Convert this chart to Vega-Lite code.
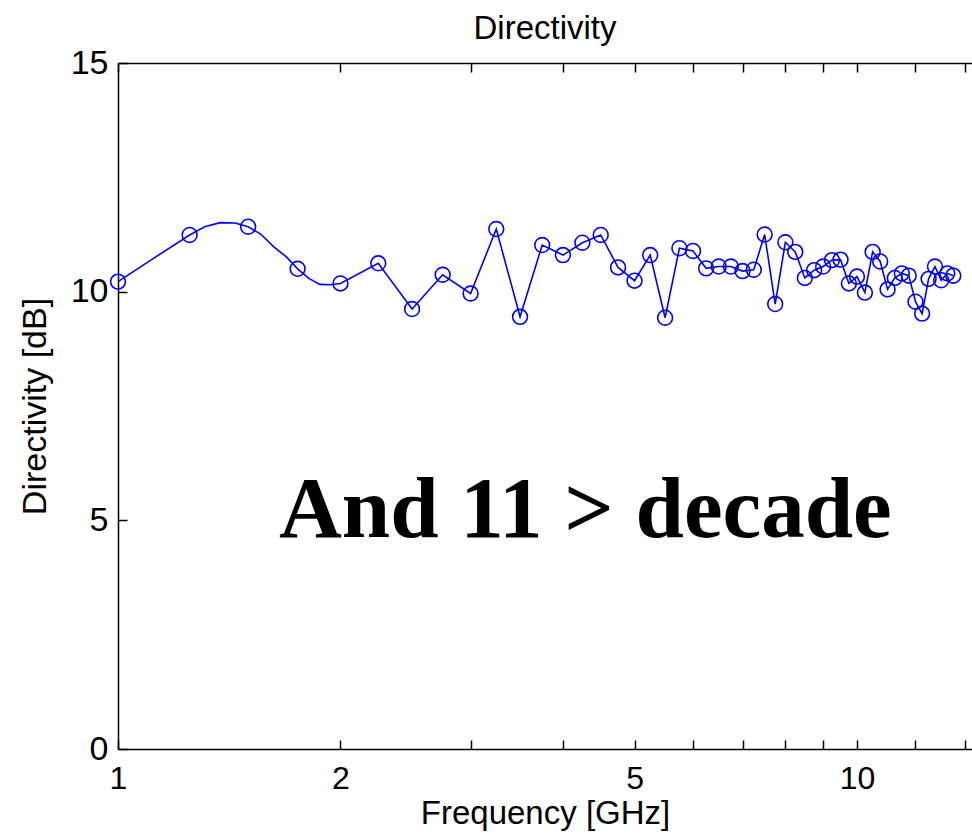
{
  "$schema": "https://vega.github.io/schema/vega-lite/v6.json",
  "width": 854,
  "height": 686,
  "autosize": "none",
  "padding": {"left": 118, "top": 63, "right": 0, "bottom": 90},
  "background": "white",
  "config": {"view": {"stroke": null}, "font": "Liberation Sans"},
  "title": {"text": "Directivity", "fontSize": 33, "font": "Liberation Sans", "fontWeight": "normal", "offset": 0, "color": "#000000"},
  "datasets": {
    "markers": [
      {"f": 1.00, "d": 10.22}, {"f": 1.25, "d": 11.24}, {"f": 1.50, "d": 11.42}, {"f": 1.75, "d": 10.50},
      {"f": 2.00, "d": 10.18}, {"f": 2.25, "d": 10.62}, {"f": 2.50, "d": 9.62}, {"f": 2.75, "d": 10.37},
      {"f": 3.00, "d": 9.96}, {"f": 3.25, "d": 11.37}, {"f": 3.50, "d": 9.45}, {"f": 3.75, "d": 11.02},
      {"f": 4.00, "d": 10.80}, {"f": 4.25, "d": 11.07}, {"f": 4.50, "d": 11.24}, {"f": 4.75, "d": 10.53},
      {"f": 5.00, "d": 10.24}, {"f": 5.25, "d": 10.80}, {"f": 5.50, "d": 9.43}, {"f": 5.75, "d": 10.95},
      {"f": 6.00, "d": 10.89}, {"f": 6.25, "d": 10.51}, {"f": 6.50, "d": 10.55}, {"f": 6.75, "d": 10.55},
      {"f": 7.00, "d": 10.45}, {"f": 7.25, "d": 10.48}, {"f": 7.50, "d": 11.25}, {"f": 7.75, "d": 9.73},
      {"f": 8.00, "d": 11.08}, {"f": 8.25, "d": 10.87}, {"f": 8.50, "d": 10.30}, {"f": 8.75, "d": 10.47},
      {"f": 9.00, "d": 10.55}, {"f": 9.25, "d": 10.69}, {"f": 9.50, "d": 10.70}, {"f": 9.75, "d": 10.18},
      {"f": 10.00, "d": 10.33}, {"f": 10.25, "d": 9.98}, {"f": 10.50, "d": 10.87}, {"f": 10.75, "d": 10.66},
      {"f": 11.00, "d": 10.05}, {"f": 11.25, "d": 10.30}, {"f": 11.50, "d": 10.40}, {"f": 11.75, "d": 10.35},
      {"f": 12.00, "d": 9.78}, {"f": 12.25, "d": 9.52}, {"f": 12.50, "d": 10.28}, {"f": 12.75, "d": 10.55},
      {"f": 13.00, "d": 10.25}, {"f": 13.25, "d": 10.40}, {"f": 13.50, "d": 10.35}
    ],
    "line": [
      {"f": 1.00, "d": 10.22}, {"f": 1.125, "d": 10.76}, {"f": 1.25, "d": 11.24}, {"f": 1.31, "d": 11.42},
      {"f": 1.375, "d": 11.51}, {"f": 1.44, "d": 11.50}, {"f": 1.50, "d": 11.42}, {"f": 1.56, "d": 11.26},
      {"f": 1.625, "d": 10.98}, {"f": 1.69, "d": 10.76}, {"f": 1.75, "d": 10.50}, {"f": 1.8125, "d": 10.29},
      {"f": 1.875, "d": 10.16}, {"f": 1.94, "d": 10.15}, {"f": 2.00, "d": 10.18}, {"f": 2.25, "d": 10.62},
      {"f": 2.50, "d": 9.62}, {"f": 2.75, "d": 10.37}, {"f": 3.00, "d": 9.96}, {"f": 3.25, "d": 11.37},
      {"f": 3.50, "d": 9.45}, {"f": 3.75, "d": 11.02}, {"f": 4.00, "d": 10.80}, {"f": 4.25, "d": 11.07},
      {"f": 4.50, "d": 11.24}, {"f": 4.75, "d": 10.53}, {"f": 5.00, "d": 10.24}, {"f": 5.25, "d": 10.80},
      {"f": 5.50, "d": 9.43}, {"f": 5.75, "d": 10.95}, {"f": 6.00, "d": 10.89}, {"f": 6.25, "d": 10.51},
      {"f": 6.50, "d": 10.55}, {"f": 6.75, "d": 10.55}, {"f": 7.00, "d": 10.45}, {"f": 7.25, "d": 10.48},
      {"f": 7.50, "d": 11.25}, {"f": 7.75, "d": 9.73}, {"f": 8.00, "d": 11.08}, {"f": 8.25, "d": 10.87},
      {"f": 8.50, "d": 10.30}, {"f": 8.75, "d": 10.47}, {"f": 9.00, "d": 10.55}, {"f": 9.25, "d": 10.69},
      {"f": 9.50, "d": 10.70}, {"f": 9.75, "d": 10.18}, {"f": 10.00, "d": 10.33}, {"f": 10.25, "d": 9.98},
      {"f": 10.50, "d": 10.87}, {"f": 10.75, "d": 10.66}, {"f": 11.00, "d": 10.05}, {"f": 11.25, "d": 10.30},
      {"f": 11.50, "d": 10.40}, {"f": 11.75, "d": 10.35}, {"f": 12.00, "d": 9.78}, {"f": 12.25, "d": 9.52},
      {"f": 12.50, "d": 10.28}, {"f": 12.75, "d": 10.55}, {"f": 13.00, "d": 10.25}, {"f": 13.25, "d": 10.40},
      {"f": 13.50, "d": 10.35}
    ],
    "note": [{"f": 4.29, "d": 4.64, "label": "And 11 > decade"}]
  },
  "layer": [
    {
      "data": {"name": "line"},
      "mark": {"type": "line", "color": "#0000ff", "strokeWidth": 1.6},
      "encoding": {
        "x": {
          "field": "f", "type": "quantitative",
          "scale": {"type": "log", "domain": [1, 14.31], "nice": false},
          "axis": {
            "orient": "bottom",
            "values": [1, 2, 3, 4, 5, 6, 7, 8, 9, 10, 12, 14],
            "format": "d",
            "labelExpr": "indexof([1,2,5,10], datum.value) >= 0 ? datum.label : ''",
            "labelOverlap": false, "labelFlush": false,
            "labelFontSize": 32, "labelColor": "#000000", "labelPadding": 23, "labelBaseline": "top",
            "tickSize": -9, "tickColor": "#000000", "tickWidth": 1.5,
            "domainColor": "#000000", "domainWidth": 1.5, "grid": false,
            "title": "Frequency [GHz]", "titleFontSize": 33, "titleFontWeight": "normal", "titleColor": "#000000", "titlePadding": 3
          }
        },
        "y": {
          "field": "d", "type": "quantitative",
          "scale": {"domain": [0, 15], "nice": false, "zero": false},
          "axis": {
            "values": [0, 5, 10, 15],
            "labelFontSize": 34, "labelColor": "#000000", "labelPadding": 19,
            "tickSize": -9, "tickColor": "#000000", "tickWidth": 1.5,
            "domainColor": "#000000", "domainWidth": 1.5, "grid": false,
            "title": "Directivity [dB]", "titleFontSize": 34, "titleFontWeight": "normal", "titleColor": "#000000", "titlePadding": 18
          }
        }
      }
    },
    {
      "data": {"name": "markers"},
      "mark": {"type": "point", "shape": "circle", "filled": false, "color": "#0000ff", "size": 220, "strokeWidth": 1.6, "opacity": 1},
      "encoding": {
        "x": {
          "field": "f", "type": "quantitative",
          "axis": {
            "orient": "top", "values": [1, 2, 3, 4, 5, 6, 7, 8, 9, 10, 12, 14],
            "labels": false, "title": null, "grid": false,
            "tickSize": -9, "tickColor": "#000000", "tickWidth": 1.5,
            "domainColor": "#000000", "domainWidth": 1.5
          }
        },
        "y": {"field": "d", "type": "quantitative", "axis": null}
      }
    },
    {
      "data": {"name": "note"},
      "mark": {"type": "text", "font": "Liberation Serif", "fontWeight": "bold", "fontSize": 87, "color": "#000000", "align": "center", "baseline": "alphabetic"},
      "encoding": {
        "x": {"field": "f", "type": "quantitative", "axis": null},
        "y": {"field": "d", "type": "quantitative", "axis": null},
        "text": {"field": "label"}
      }
    }
  ],
  "resolve": {"axis": {"x": "independent", "y": "independent"}}
}
